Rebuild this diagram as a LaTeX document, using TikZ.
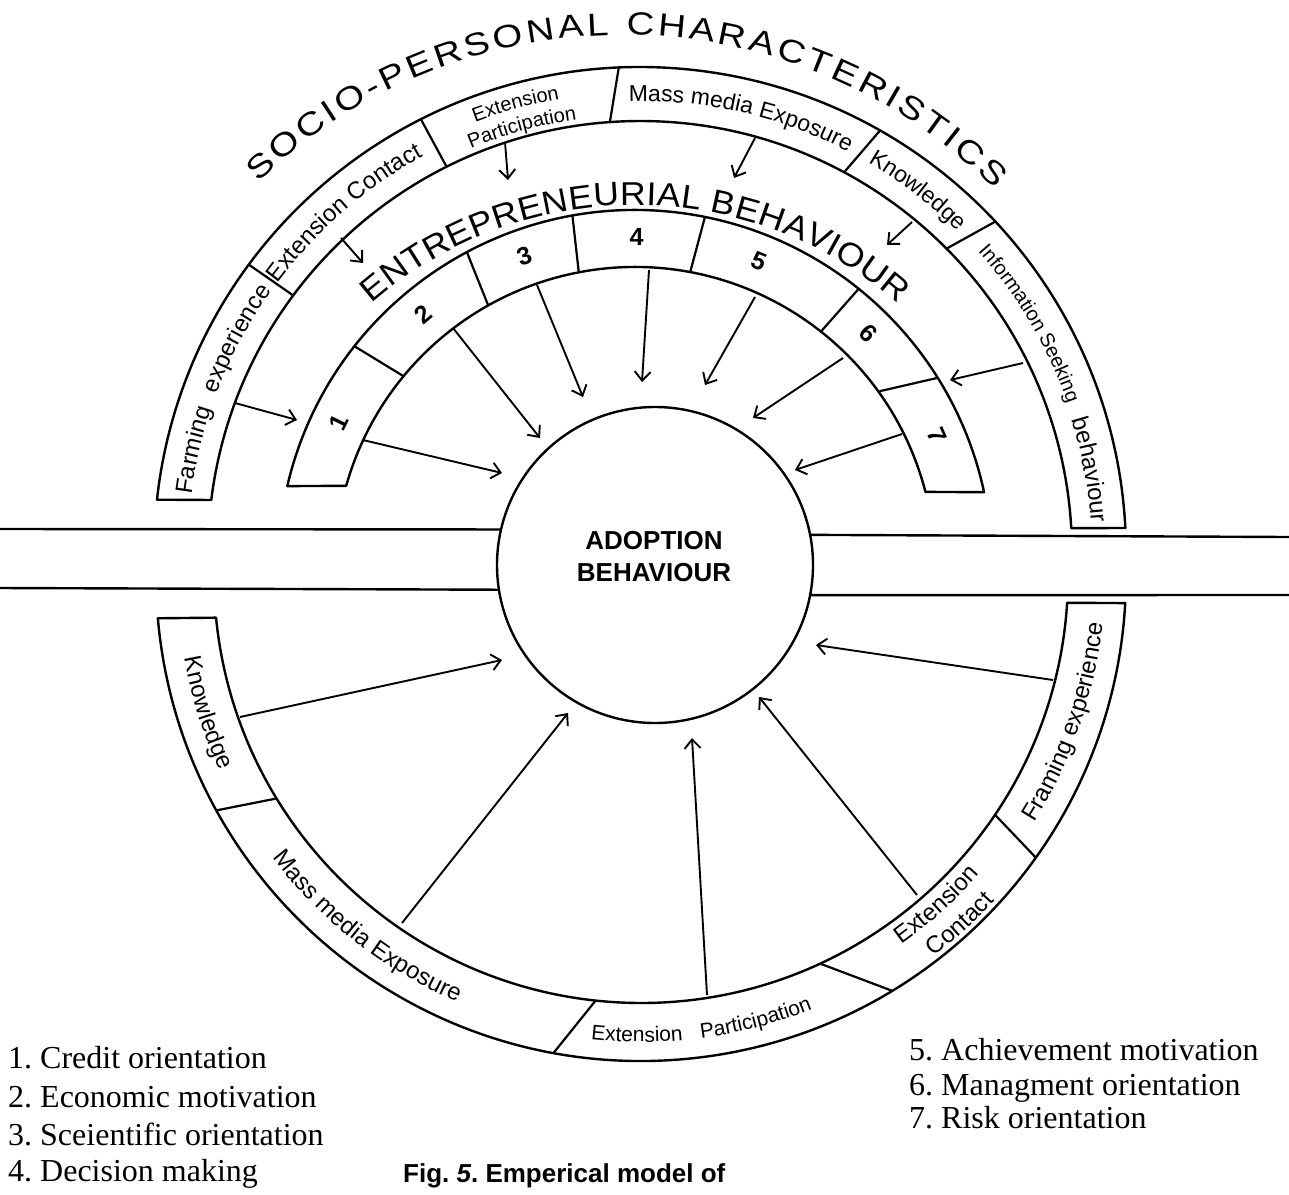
\documentclass[tikz,border=0pt]{standalone}
\usepackage{fontspec}
\setmainfont{Liberation Serif}
\setsansfont{Liberation Sans}
\newfontfamily\WideSans[FakeStretch=1.2]{Liberation Sans}
\newfontfamily\MidSans[FakeStretch=1.08]{Liberation Sans}
\usetikzlibrary{arrows.meta,decorations.text}
\newcommand\LblFont{\sffamily\fontsize{23}{23}\selectfont}
\newcommand\CntFont{\sffamily\fontsize{24}{24}\selectfont}
\newcommand\SmlFont{\sffamily\fontsize{20}{20}\selectfont}
\newcommand\PartFont{\sffamily\fontsize{21}{21}\selectfont}
\newcommand\BigLbl{\sffamily\fontsize{24}{24}\selectfont}
\newcommand\TitleFont{\WideSans\fontsize{32}{32}\selectfont}
\newcommand\EntFont{\MidSans\fontsize{33}{33}\selectfont}
\newcommand\ArcTxt[6]{%
  \path[decorate,decoration={text along path,text align=center,text={|#5|#6}}]
    ([shift={(#3:#2)}]#1) arc[start angle=#3,end angle=#4,radius=#2];}
\frenchspacing
\begin{document}
\begin{tikzpicture}[x=1pt,y=1pt,
  ring/.style={line width=2.4pt,line join=round},
  divider/.style={line width=2.2pt},
  arr/.style={line width=1.9pt,-{Straight Barb[length=9pt,width=16pt,line width=1.9pt]}},
  band/.style={line width=2.4pt},
  numlbl/.style={font=\sffamily\bfseries\fontsize{25}{25}\selectfont,inner sep=0pt},
  leg/.style={font=\rmfamily\fontsize{32}{32}\selectfont,anchor=base west,inner sep=0pt},
]
\useasboundingbox (0,0) rectangle (1289,-1194);
\coordinate (T) at (640,-553);
\coordinate (E) at (635,-567);
\coordinate (B) at (641,-576);
\coordinate (S) at (623,-560);
\coordinate (Q) at (635,-606);

% ---------- top ring (socio-personal) ----------
\draw[ring] ([shift={(173.7:486)}]T) arc[start angle=173.7,end angle=2.95,radius=486]
  -- ([shift={(3.3:432)}]T) arc[start angle=3.3,end angle=172.95,radius=432] -- cycle;
\foreach \o/\i in {143.6/143.4,116.8/116.6,92.5/94,60.4/61.8,43/44.8}
  \draw[divider] ([shift={(\o:486)}]T) -- ([shift={(\i:432)}]T);

% ---------- entrepreneurial ring ----------
\draw[ring] ([shift={(166.9:357)}]E) arc[start angle=166.9,end angle=12.1,radius=357]
  -- ([shift={(14.5:300)}]E) arc[start angle=14.5,end angle=164.3,radius=300] -- cycle;
\foreach \o/\i in {141.8/140.5,118.1/119.3,100.1/100.8,78.7/79.4,51.2/51.7,32/35.8}
  \draw[divider] ([shift={(\o:357)}]E) -- ([shift={(\i:300)}]E);

% ---------- bottom ring ----------
\draw[ring] ([shift={(185:485)}]B) arc[start angle=185,end angle=356.8,radius=485]
  -- ([shift={(356.4:427)}]B) arc[start angle=356.4,end angle=185.6,radius=427] -- cycle;
\foreach \o/\i in {208.9/211.4,259.6/263.9,301.2/294.8,324.5/326}
  \draw[divider] ([shift={(\o:485)}]B) -- ([shift={(\i:427)}]B);

% ---------- central circle ----------
\node[draw,circle,line width=2.4pt,minimum size=316pt,inner sep=0pt,outer sep=0pt] (A) at (655,-565) {};
\node[font=\sffamily\bfseries\fontsize{26}{32}\selectfont,align=center,inner sep=0pt] (adopt) at (654,-557) {ADOPTION\\BEHAVIOUR};

% ---------- horizontal band ----------
\coordinate (bl1) at (0,-529);
\coordinate (bl2) at (0,-588);
\coordinate (br1) at (1289,-537);
\coordinate (br2) at (1289,-595);
\draw[band] (bl1) -- (A.167.6);
\draw[band] (bl2) -- (A.189.1);
\draw[band] (A.11.7) -- (br1);
\draw[band] (A.349.8) -- (br2);

% ---------- arrows top ring -> entrepreneurial ----------
\coordinate (fa1) at (235,-403); \coordinate (fa2) at (297,-420);
\coordinate (ec1) at (341,-238); \coordinate (ec2) at (363,-263);
\coordinate (ep1) at (505,-142); \coordinate (ep2) at (508,-180);
\coordinate (mm1) at (755,-138); \coordinate (mm2) at (734,-178);
\coordinate (kn1) at (912,-222); \coordinate (kn2) at (887,-245);
\coordinate (is1) at (1023,-363); \coordinate (is2) at (950,-380);
\foreach \n in {fa,ec,ep,mm,kn,is} \draw[arr] (\n1) -- (\n2);

% ---------- arrows entrepreneurial -> adoption ----------
\coordinate (e1a) at (363,-440); \coordinate (e1b) at (502,-473);
\coordinate (e2a) at (453,-328); \coordinate (e2b) at (540,-438);
\coordinate (e3a) at (537,-285); \coordinate (e3b) at (583,-397);
\coordinate (e4a) at (649,-270); \coordinate (e4b) at (642,-382);
\coordinate (e5a) at (755,-297); \coordinate (e5b) at (705,-385);
\coordinate (e6a) at (843,-358); \coordinate (e6b) at (753,-418);
\coordinate (e7a) at (902,-434); \coordinate (e7b) at (795,-470);
\foreach \n in {e1,e2,e3,e4,e5,e6,e7} \draw[arr] (\n a) -- (\n b);

% ---------- arrows bottom ring -> adoption ----------
\coordinate (bk1) at (240,-717); \coordinate (bk2) at (502,-660);
\coordinate (bm1) at (402,-923); \coordinate (bm2) at (568,-713);
\coordinate (bp1) at (707,-995); \coordinate (bp2) at (692,-738);
\coordinate (bc1) at (917,-895); \coordinate (bc2) at (759,-697);
\coordinate (bf1) at (1053,-680); \coordinate (bf2) at (816,-645);
\foreach \n in {bk,bm,bp,bc,bf} \draw[arr] (\n1) -- (\n2);

% ---------- titles ----------
\path[decorate,decoration={text along path,text align=fit to path,
  text={|\TitleFont|SOCIO-PERSONAL CHARACTERISTICS}}]
  ([shift={(134:525)}]S) arc[start angle=134,end angle=45,radius=525];
\path[decorate,decoration={text along path,text align=fit to path,
  text={|\EntFont|ENTREPRENEURIAL BEHAVIOUR}}]
  ([shift={(131:401)}]Q) arc[start angle=131,end angle=49,radius=401];

% ---------- top ring labels ----------
\ArcTxt{T}{452}{180}{154}{\BigLbl}{Farming}
\ArcTxt{T}{452}{163}{141}{\BigLbl}{experience}
\ArcTxt{T}{452}{146}{116}{\CntFont}{Extension Contact}
\ArcTxt{T}{461}{118}{93}{\SmlFont}{Extension}
\ArcTxt{T}{438}{120}{91}{\SmlFont}{Participation}
\ArcTxt{T}{452}{95}{59}{\LblFont}{Mass media Exposure}
\ArcTxt{T}{452}{64}{41}{\LblFont}{Knowledge}
\ArcTxt{T}{453}{42.5}{18.5}{\SmlFont}{Information Seeking}
\ArcTxt{T}{452}{17.5}{3.5}{\BigLbl}{behaviour}

% ---------- bottom ring labels ----------
\ArcTxt{B}{464}{186}{209}{\BigLbl}{Knowledge}
\ArcTxt{B}{464}{213}{251}{\BigLbl}{Mass media Exposure}
\ArcTxt{B}{466}{262}{277}{\PartFont}{Extension}
\ArcTxt{B}{466}{276}{293}{\PartFont}{Participation}
\ArcTxt{B}{451}{304}{320}{\CntFont}{Extension}
\ArcTxt{B}{480}{307}{318}{\CntFont}{Contact}
\ArcTxt{B}{464}{327}{355}{\BigLbl}{Framing experience}

% ---------- numbers ----------
\foreach \k/\a in {1/154,2/130,3/109.6,4/89.7,5/68,6/45,7/23.5}
  \node[numlbl,rotate=\a-90] (n\k) at ([shift={(\a:330)}]E) {\k};

% ---------- legend ----------
\node[leg] (l1) at (8,-1068) {1. Credit orientation};
\node[leg] (l2) at (8,-1107) {2. Economic motivation};
\node[leg] (l3) at (8,-1145) {3. Sceientific orientation};
\node[leg] (l4) at (8,-1181) {4. Decision making};
\node[leg] (l5) at (909,-1060) {5. Achievement motivation};
\node[leg] (l6) at (909,-1095) {6. Managment orientation};
\node[leg] (l7) at (909,-1128) {7. Risk orientation};
\node[font=\sffamily\bfseries\fontsize{26}{26}\selectfont,anchor=base west,inner sep=0pt] (cap) at (403,-1182) {Fig. \textit{5}. Emperical model of};
\end{tikzpicture}
\end{document}
